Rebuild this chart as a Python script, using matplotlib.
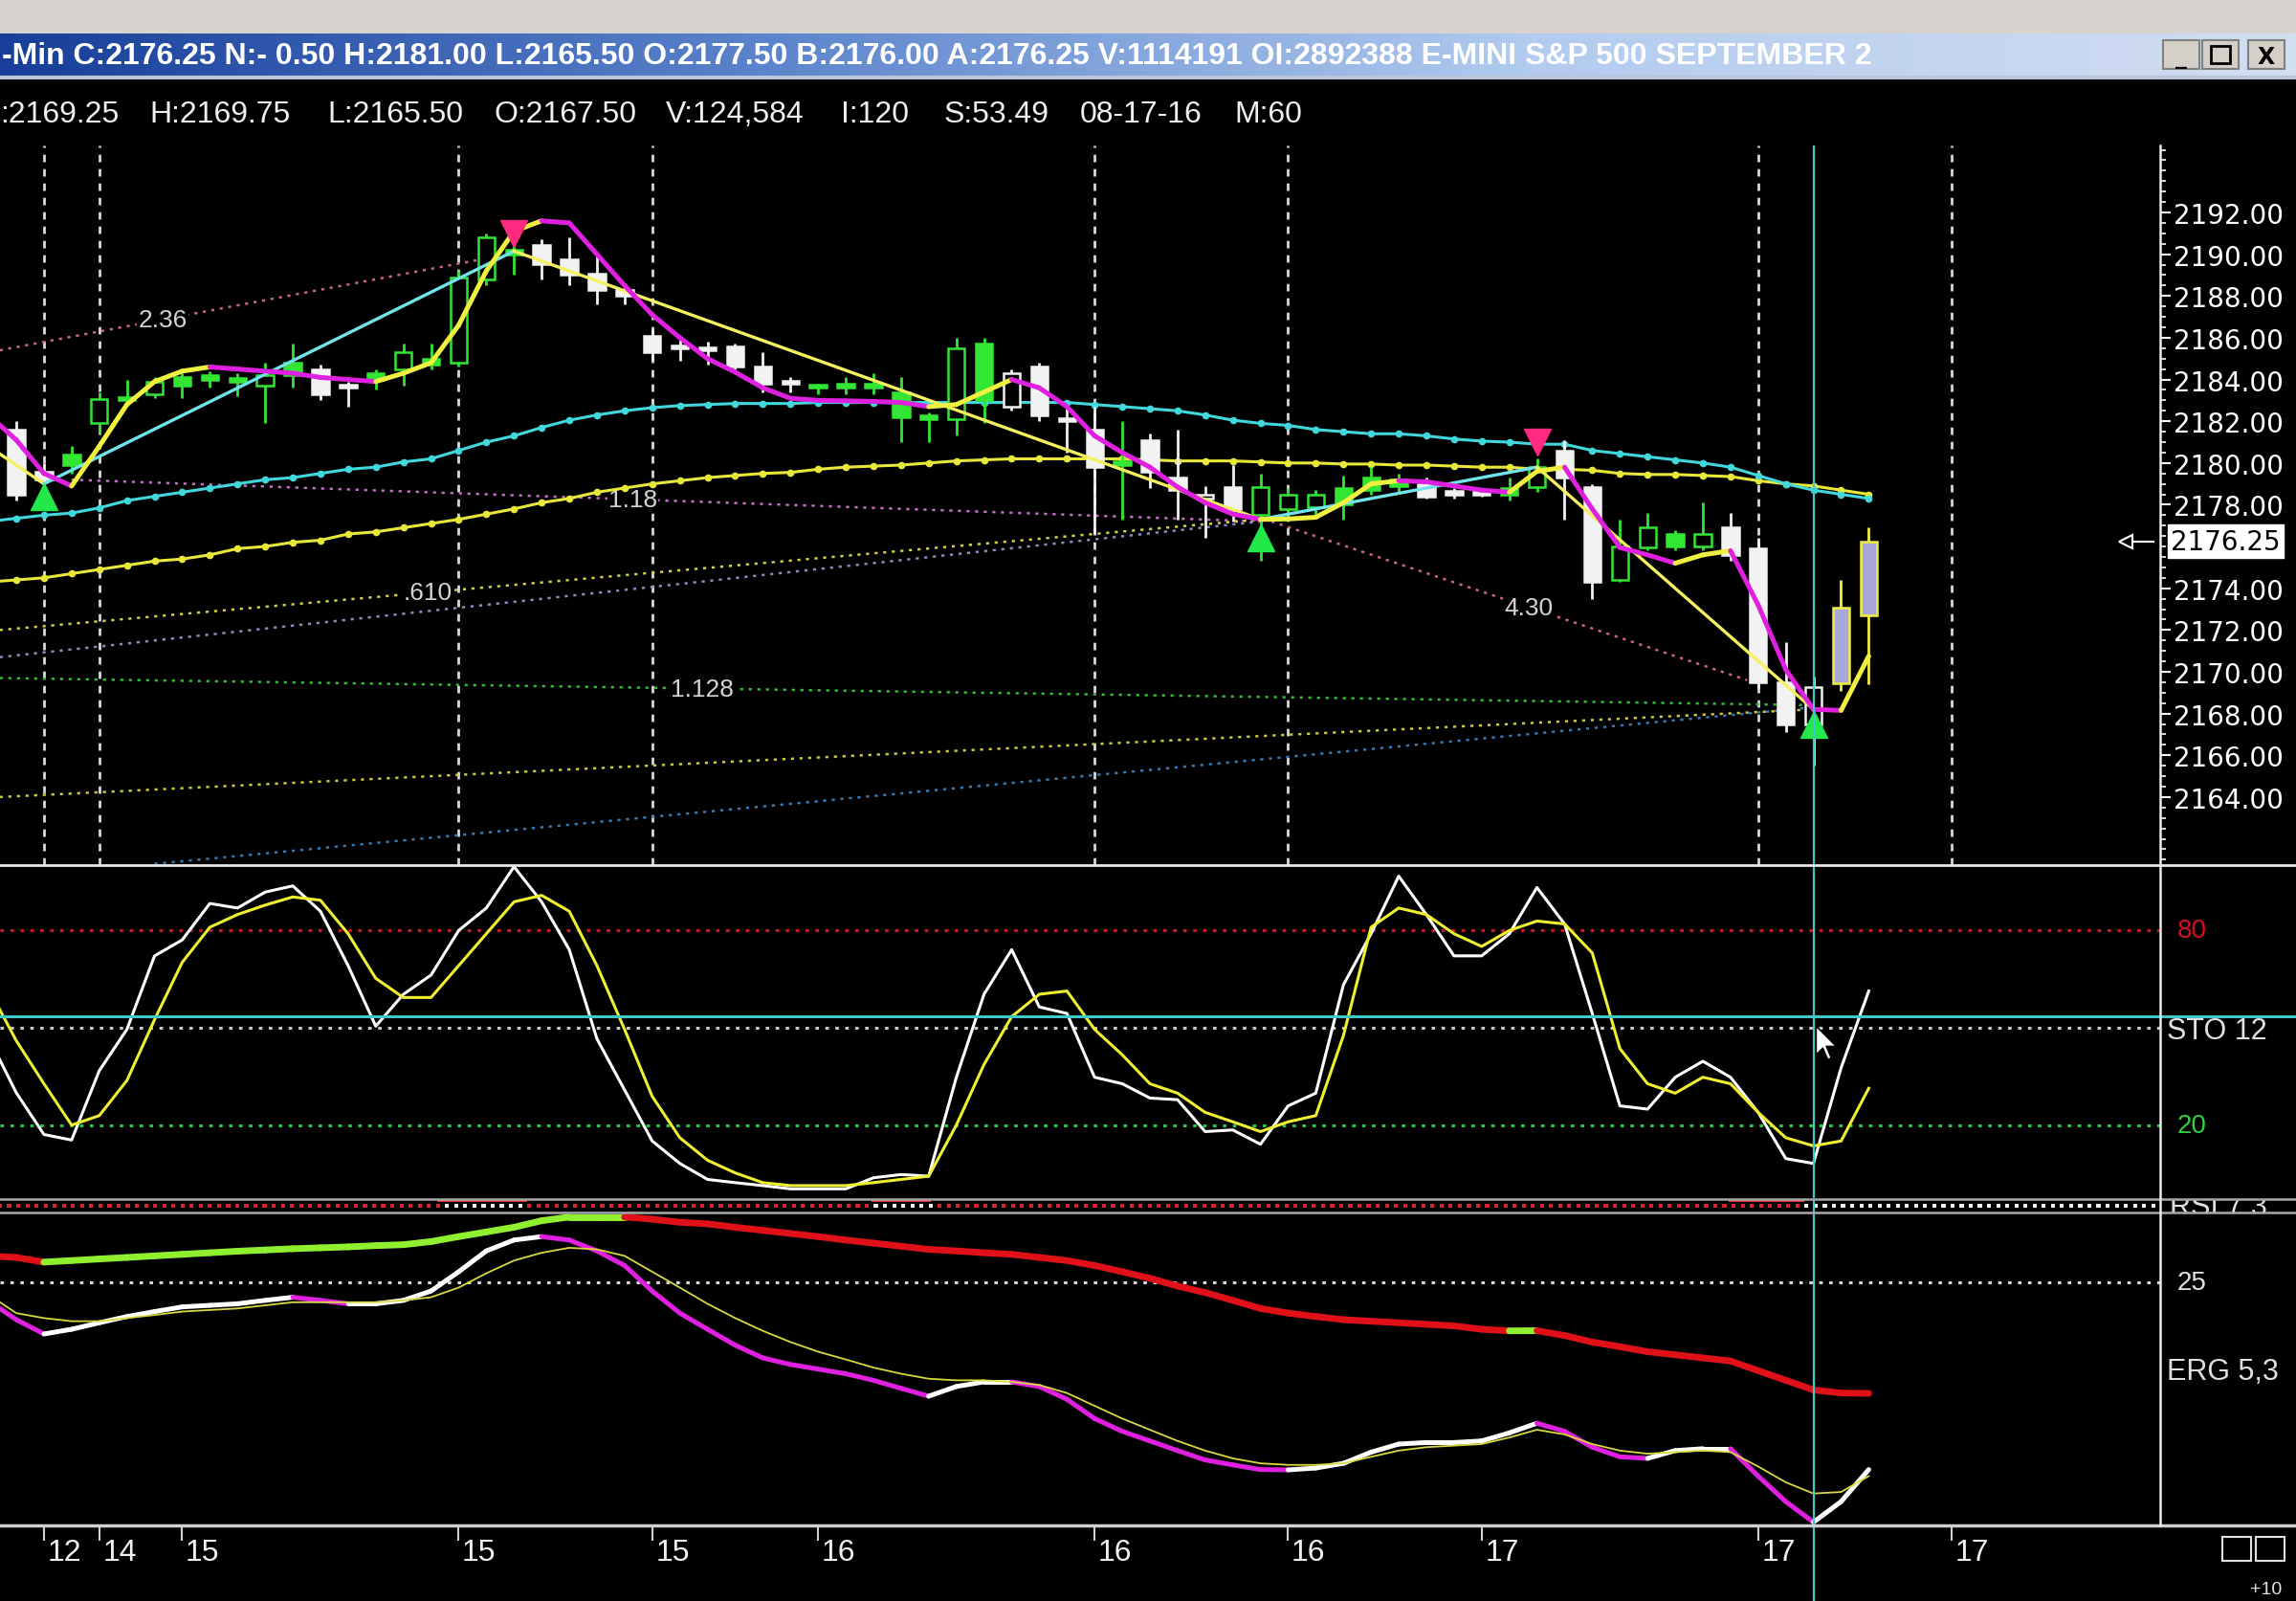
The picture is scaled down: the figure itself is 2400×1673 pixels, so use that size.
import numpy as np
import matplotlib
matplotlib.use("Agg")
import matplotlib.pyplot as plt
from matplotlib.colors import LinearSegmentedColormap
from matplotlib.collections import LineCollection
from matplotlib.lines import Line2D
from matplotlib.patches import Rectangle
from matplotlib.path import Path
from matplotlib.ticker import FormatStrFormatter, MultipleLocator

W, H = 2400, 1674
NARROW = ['Liberation Sans', 'DejaVu Sans']

# header texts
title = ("-Min C:2176.25 N:- 0.50 H:2181.00 L:2165.50 O:2177.50 B:2176.00 "
         "A:2176.25 V:1114191 OI:2892388 E-MINI S&P 500 SEPTEMBER 2")
info_items = [":2169.25", "H:2169.75", "L:2165.50", "O:2167.50", "V:124,584",
              "I:120", "S:53.49", "08-17-16", "M:60"]
info_px = [0, 156, 342, 516, 696, 879, 987, 1129, 1290]

# hourly bars, index -1 .. 66
bar_idx = np.arange(-1, 67)
opens = [2181.6, 2179.6, 2179.9, 2181.9, 2183.0, 2183.3, 2183.7, 2184.0, 2183.9, 2183.7,
         2184.2, 2184.5, 2183.7, 2184.0, 2184.5, 2184.7, 2184.8, 2188.8, 2190.0, 2190.46,
         2189.77, 2189.08, 2188.3, 2186.1, 2185.6, 2185.5, 2185.6, 2184.6, 2183.9, 2183.6,
         2183.6, 2183.6, 2182.2, 2182.1, 2182.1, 2183.0, 2184.3, 2184.6, 2182.1, 2181.6,
         2179.9, 2181.1, 2179.3, 2178.5, 2178.85, 2178.85, 2177.8, 2177.9, 2178.0, 2178.7,
         2178.9, 2179.0, 2178.6, 2178.6, 2178.5, 2178.85, 2180.6, 2178.85, 2174.4, 2175.95,
         2176.0, 2176.0, 2176.9, 2175.9, 2169.5, 2167.5, 2169.45, 2172.7]
highs = [2182.0, 2180.0, 2180.8, 2183.4, 2184.0, 2184.1, 2184.3, 2184.4, 2184.3, 2184.8,
         2185.7, 2184.7, 2183.9, 2184.5, 2185.7, 2185.7, 2189.2, 2191.0, 2190.6, 2190.7,
         2190.8, 2190.0, 2188.6, 2186.4, 2185.9, 2185.8, 2185.7, 2185.3, 2184.1, 2183.8,
         2184.1, 2184.3, 2184.1, 2182.4, 2186.0, 2186.0, 2184.5, 2184.8, 2182.7, 2182.7,
         2182.0, 2181.4, 2181.6, 2178.9, 2179.9, 2179.5, 2178.8, 2178.7, 2179.4, 2179.8,
         2179.5, 2179.3, 2178.8, 2178.8, 2179.3, 2180.2, 2181.1, 2179.0, 2177.3, 2177.6,
         2176.8, 2178.1, 2177.6, 2176.4, 2171.4, 2169.75, 2174.4, 2176.9]
lows = [2178.2, 2178.9, 2179.5, 2181.4, 2182.9, 2183.1, 2183.1, 2183.6, 2183.2, 2181.9,
        2183.6, 2183.0, 2182.7, 2183.5, 2183.7, 2184.5, 2184.6, 2188.5, 2189.0, 2188.8,
        2188.5, 2187.6, 2187.6, 2184.9, 2184.9, 2184.7, 2184.5, 2183.4, 2183.4, 2183.3,
        2183.3, 2183.3, 2181.0, 2181.0, 2181.3, 2181.9, 2182.5, 2182.0, 2180.5, 2176.6,
        2177.3, 2178.8, 2177.3, 2176.4, 2177.2, 2175.3, 2177.2, 2177.5, 2177.3, 2178.5,
        2178.6, 2178.3, 2178.3, 2178.4, 2178.2, 2178.6, 2177.3, 2173.5, 2174.3, 2175.8,
        2175.8, 2175.8, 2175.3, 2169.2, 2167.1, 2165.5, 2169.1, 2169.4]
closes = [2178.5, 2179.2, 2180.4, 2183.05, 2183.1, 2183.9, 2184.1, 2184.2, 2184.0, 2184.2,
          2184.8, 2183.3, 2183.6, 2184.3, 2185.3, 2185.0, 2188.9, 2190.8, 2190.2, 2189.54,
          2189.0, 2188.3, 2188.0, 2185.3, 2185.5, 2185.4, 2184.6, 2183.8, 2183.8, 2183.7,
          2183.8, 2183.8, 2183.4, 2182.3, 2185.5, 2185.7, 2182.7, 2182.3, 2182.0, 2179.8,
          2180.1, 2179.6, 2178.7, 2178.3, 2177.8, 2177.5, 2178.5, 2178.5, 2178.8, 2179.3,
          2179.2, 2178.4, 2178.5, 2178.5, 2178.8, 2179.8, 2179.3, 2174.3, 2176.0, 2176.9,
          2176.6, 2176.6, 2175.6, 2169.5, 2167.5, 2169.25, 2173.05, 2176.25]
# W white, H white hollow, G green hollow, F green filled, Y yellow/lavender
bar_style = ("WWFGFGFFFG" "FWWFGFGGFW" "WWWWWWWWWF" "FFFFGFHWWW"
             "FWWHWGGGFF" "FWWWFGWWGG" "FGWWWHYY")

# indicator lines, index -2 .. 66
line_idx = np.arange(-2, 67)
ma_fast = [2182.3, 2181.1, 2179.5, 2178.9, 2180.8, 2182.8, 2183.9, 2184.4, 2184.6, 2184.5,
           2184.4, 2184.3, 2184.1, 2184.0, 2183.9, 2184.3, 2184.8, 2186.6, 2189.2, 2191.1,
           2191.6, 2191.5, 2190.0, 2188.5, 2187.1, 2186.0, 2185.0, 2184.35, 2183.6, 2183.1,
           2183.0, 2182.98, 2182.95, 2182.9, 2182.7, 2182.8, 2183.4, 2184.0, 2183.6, 2182.7,
           2181.3, 2180.5, 2179.8, 2178.85, 2178.1, 2177.55, 2177.3, 2177.32, 2177.4, 2178.1,
           2179.0, 2179.15, 2179.1, 2178.9, 2178.7, 2178.6, 2179.6, 2179.8, 2177.8, 2175.95,
           2175.6, 2175.2, 2175.6, 2175.8, 2173.2, 2170.1, 2168.2, 2168.15, 2170.75]
ma_mid = [2177.2, 2177.35, 2177.5, 2177.6, 2177.85, 2178.2, 2178.4, 2178.6, 2178.8, 2179.0,
          2179.2, 2179.3, 2179.5, 2179.7, 2179.8, 2180.05, 2180.2, 2180.6, 2181.0, 2181.3,
          2181.7, 2182.05, 2182.3, 2182.5, 2182.65, 2182.75, 2182.8, 2182.85, 2182.85, 2182.85,
          2182.9, 2182.9, 2182.9, 2182.9, 2182.9, 2182.9, 2182.9, 2182.9, 2182.9, 2182.9,
          2182.8, 2182.7, 2182.6, 2182.5, 2182.3, 2182.05, 2181.9, 2181.8, 2181.6, 2181.5,
          2181.4, 2181.4, 2181.3, 2181.15, 2181.05, 2181.0, 2180.9, 2180.9, 2180.6, 2180.45,
          2180.3, 2180.15, 2180.0, 2179.8, 2179.4, 2179.0, 2178.7, 2178.5, 2178.3]
ma_slow = [2174.3, 2174.4, 2174.5, 2174.7, 2174.9, 2175.1, 2175.3, 2175.4, 2175.6, 2175.9,
           2176.0, 2176.2, 2176.3, 2176.6, 2176.7, 2176.9, 2177.1, 2177.3, 2177.55, 2177.8,
           2178.1, 2178.3, 2178.6, 2178.8, 2179.0, 2179.15, 2179.3, 2179.4, 2179.5, 2179.55,
           2179.7, 2179.8, 2179.85, 2179.9, 2180.0, 2180.1, 2180.15, 2180.2, 2180.2, 2180.2,
           2180.2, 2180.2, 2180.15, 2180.1, 2180.1, 2180.1, 2180.05, 2180.0, 2180.0, 2179.95,
           2179.95, 2179.9, 2179.9, 2179.85, 2179.8, 2179.8, 2179.7, 2179.7, 2179.65, 2179.5,
           2179.45, 2179.45, 2179.4, 2179.35, 2179.15, 2179.0, 2178.9, 2178.7, 2178.5]
stoch_k = [47, 30, 17.2, 15.5, 36.8, 49.5, 72.1, 77.0, 88.2, 86.8,
           91.7, 93.6, 85.8, 69.1, 50.5, 60.3, 66.2, 79.9, 86.8, 99.5,
           88.7, 74.0, 46.6, 30.9, 15.2, 8.3, 3.4, 2.4, 1.5, 0.5,
           0.5, 0.5, 3.9, 4.9, 4.4, 34.8, 60.3, 74.0, 56.4, 54.4,
           34.8, 32.8, 28.4, 27.9, 18.1, 18.6, 14.2, 26.0, 29.9, 63.2,
           78.9, 96.6, 84.8, 72.1, 72.1, 78.9, 93.1, 81.9, 54.4, 26.0,
           25.0, 34.8, 39.7, 34.8, 24.0, 9.8, 8.3, 37.7, 61.3]
stoch_d = [62, 46, 32.8, 20.1, 23.0, 33.8, 52.5, 70.1, 80.9, 84.8,
           87.7, 90.2, 89.2, 78.9, 65.2, 59.3, 59.3, 69.1, 78.9, 88.7,
           90.7, 85.8, 69.1, 49.5, 28.9, 16.2, 9.3, 5.4, 2.4, 1.5,
           1.5, 1.5, 2.4, 3.4, 4.4, 20.1, 38.7, 53.4, 60.3, 61.3,
           49.5, 41.7, 32.8, 29.9, 24.0, 21.1, 18.1, 21.1, 23.0, 47.6,
           80.9, 86.8, 84.8, 78.9, 75.0, 79.9, 82.8, 81.9, 73.0, 43.6,
           32.8, 29.9, 34.8, 32.8, 24.0, 16.2, 13.7, 15.2, 31.4]
erg_trend = [33.5, 33.0, 31.5, 32.0, 32.5, 33.0, 33.5, 34.0, 34.5, 35.0,
             35.4, 35.8, 36.1, 36.4, 36.8, 37.1, 38.1, 39.7, 41.2, 42.7,
             44.8, 46.0, 46.0, 46.0, 45.3, 44.3, 43.8, 42.7, 41.7, 40.7,
             39.7, 38.6, 37.6, 36.6, 35.6, 35.1, 34.5, 34.0, 33.0, 32.0,
             30.4, 28.4, 26.3, 23.8, 21.7, 19.2, 16.6, 15.1, 14.0, 13.0,
             12.5, 12.0, 11.5, 11.0, 9.9, 9.4, 9.45, 7.9, 5.8, 4.3,
             2.7, 1.7, 0.7, -0.3, -3.4, -6.5, -9.6, -10.6, -10.7]
erg_main = [19.0, 13.0, 8.4, 9.9, 12.0, 14.0, 15.6, 17.1, 17.6, 18.1,
            19.2, 20.2, 19.2, 18.1, 18.1, 19.2, 22.2, 28.4, 35.1, 38.6,
            39.7, 38.6, 35.1, 30.4, 22.2, 15.1, 9.9, 4.8, 0.7, -1.4,
            -2.9, -4.4, -6.5, -9.1, -11.6, -8.5, -7.0, -7.0, -8.5, -12.6,
            -18.8, -22.9, -26.0, -29.1, -32.1, -33.7, -35.2, -35.3, -34.7, -33.2,
            -29.6, -27.0, -26.5, -26.5, -26.0, -23.4, -20.3, -22.9, -28.0, -31.1,
            -31.6, -29.1, -28.5, -28.5, -37.3, -45.5, -52.1, -45.5, -35.2]
erg_signal = [21.0, 15.1, 13.5, 12.5, 12.5, 13.5, 14.5, 15.6, 16.1, 16.6,
              17.6, 18.6, 18.6, 18.6, 18.6, 19.2, 20.2, 23.3, 27.9, 32.0,
              34.5, 36.1, 35.6, 33.5, 28.4, 23.3, 18.1, 13.5, 9.4, 5.8,
              2.7, 0.2, -2.4, -4.4, -6.0, -6.5, -6.5, -7.0, -8.0, -10.6,
              -14.7, -18.8, -22.4, -26.0, -29.1, -31.6, -33.2, -33.7, -33.7, -33.2,
              -31.1, -29.1, -28.0, -27.5, -27.0, -24.9, -22.4, -23.9, -27.0, -29.1,
              -30.1, -29.6, -29.1, -29.6, -34.2, -39.3, -42.9, -42.4, -37.3]

# swing zigzag and pivot markers
zz_idx = [-4, 0, 17, 44, 54, 64]
zz_price = [2182.6, 2179.0, 2190.15, 2177.3, 2179.8, 2168.2]
pivot_low_idx = [0, 44, 64]
pivot_low_price = [2178.4, 2176.4, 2167.5]
pivot_high_idx = [17, 54]
pivot_high_price = [2191.0, 2181.0]

# dotted projection lines
fib_x0 = [-1.6, 1.0, -1.6, -1.6, -1.6, -1.6, 4.0, 44.4]
fib_p0 = [2185.4, 2179.2, 2172.0, 2170.7, 2169.7, 2164.0, 2160.8, 2177.2]
fib_x1 = [16.0, 44.0, 44.0, 44.0, 64.0, 64.0, 64.0, 61.6]
fib_p1 = [2189.8, 2177.2, 2177.3, 2177.2, 2168.4, 2168.2, 2168.3, 2169.6]
fib_col = ['#c86878', '#c070c8', '#d0d048', '#8c88c0', '#38b838', '#c8c840', '#3878b0', '#c86878']
fib_lbl = ['2.36', '1.18', '.610', '', '1.128', '', '', '4.30']
fib_lbl_x = [4.3, 21.3, 13.9, 0, 23.8, 0, 0, 53.7]

# time axis
session_idx = [0, 2, 15, 22, 38, 45, 62, 69]
date_idx = [0, 2, 5, 15, 22, 28, 38, 45, 52, 62, 69]
date_lbl = ['12', '14', '15', '15', '15', '16', '16', '16', '17', '17', '17']

cursor_idx = 64
cursor_sto = 53.49
last_price = 2176.25
rsi_white_spans = [(14.3, 17.4), (30.0, 32.3), (63.6, 82.0)]
rsi_flag_spans = [(14.3, 17.4), (30.0, 32.0), (61.0, 63.6)]

# ------------------------------------------------------------------
fig = plt.figure(figsize=(W / 100, H / 100), dpi=100, facecolor='black')


def frame(top, bottom, left=0, right=2258):
    a = fig.add_axes([left / W, 1 - bottom / H, (right - left) / W, (bottom - top) / H])
    a.set_facecolor('black')
    for s in a.spines.values():
        s.set_visible(False)
    a.set_xticks([])
    a.set_yticks([])
    return a


def fig_line(x0, y0, x1, y1, color, lw):
    fig.add_artist(Line2D([x0 / W, x1 / W], [1 - y0 / H, 1 - y1 / H],
                          transform=fig.transFigure, color=color, lw=lw))


def slope_lines(a, x, y, up, down, lw, z):
    y = np.asarray(y, float)
    pts = np.column_stack([x, y])
    segs = np.stack([pts[:-1], pts[1:]], axis=1)
    cols = [up if b >= c else down for c, b in zip(y[:-1], y[1:])]
    a.add_collection(LineCollection(segs, colors=cols, linewidths=lw, zorder=z,
                                    capstyle='round', joinstyle='round'))


x_lo, x_hi = -1.59, 76.54
x_wide = x_lo + (x_hi - x_lo) * W / 2258

# window chrome
top = frame(0, 36, 0, W)
top.set_facecolor('#d6d3ce')
tb = frame(36, 80, 0, W)
grad = LinearSegmentedColormap.from_list('tb', ['#173e98', '#5c84cc', '#b2cbee', '#d2def2'])
tb.imshow(np.linspace(0, 1, 512).reshape(1, -1), cmap=grad, aspect='auto', extent=[0, 1, 0, 1])
tb.set_xlim(0, 1)
tb.set_ylim(0, 1)
tb.text(0.001, 0.47, title, transform=tb.transAxes, color='white', fontsize=23,
        fontweight='bold', family=NARROW, va='center', ha='left')
for bx, glyph in zip([2261, 2302, 2350], ['_', '', 'X']):
    fig.add_artist(Rectangle((bx / W, 1 - 73 / H), 38 / W, 30 / H, transform=fig.transFigure,
                             facecolor='#d4d0c8', edgecolor='#808080', lw=1.5))
    if glyph:
        fig.text((bx + 19) / W, 1 - 60 / H, glyph, color='black', fontsize=17,
                 fontweight='bold', ha='center', va='center')
fig.add_artist(Rectangle((2311 / W, 1 - 67 / H), 20 / W, 18 / H, transform=fig.transFigure,
                         facecolor='none', edgecolor='black', lw=2))
fig_line(0, 82, W, 82, '#b8c4d8', 3)

for txt, px in zip(info_items, info_px):
    fig.text(px / W, 1 - 120 / H, txt, color='#f0f0f0', fontsize=23, family=NARROW,
             ha='left', va='center')

# ---------------- price panel
ax = frame(153, 905)
ax.set_xlim(x_lo, x_hi)
ax.set_ylim(2160.74, 2195.21)
ax.vlines(session_idx, 2160.74, 2195.21, colors='#d8d8d8', lw=2, linestyles=(0, (2.8, 2.6)), zorder=1)

for k in range(len(fib_x0)):
    ax.plot([fib_x0[k], fib_x1[k]], [fib_p0[k], fib_p1[k]], color=fib_col[k], lw=1.8,
            linestyle=(0, (1.3, 2.3)), zorder=2)
    if fib_lbl[k]:
        py = np.interp(fib_lbl_x[k], [fib_x0[k], fib_x1[k]], [fib_p0[k], fib_p1[k]])
        ax.text(fib_lbl_x[k], py, fib_lbl[k], color='#d4d4d4', fontsize=19, family=NARROW,
                ha='center', va='center', zorder=2.5,
                bbox=dict(boxstyle='square,pad=0.05', fc='black', ec='none'))

ax.plot(line_idx, ma_slow, color='#e8e83a', lw=2.2, marker='o', ms=4.5, zorder=3)
ax.plot(line_idx, ma_mid, color='#40d8dc', lw=2.2, marker='o', ms=4.5, zorder=3)

candle_col = {'W': ('#f2f2f2', '#f2f2f2'), 'H': ('black', '#f2f2f2'),
              'G': ('black', '#33e633'), 'F': ('#33e633', '#33e633'),
              'Y': ('#a9a6dc', '#f0f040')}
for i, o, h, l, c, s in zip(bar_idx, opens, highs, lows, closes, bar_style):
    face, edge = candle_col[s]
    ax.vlines(i, l, h, colors=edge, lw=2, zorder=4)
    lo, hi = min(o, c), max(o, c)
    ax.add_patch(Rectangle((i - 0.3, lo), 0.6, max(hi - lo, 0.15), facecolor=face,
                           edgecolor=edge, lw=1.8, zorder=5))

for k in range(len(zz_idx) - 1):
    col = '#70e4ec' if zz_price[k + 1] > zz_price[k] else '#f4f060'
    ax.plot(zz_idx[k:k + 2], zz_price[k:k + 2], color=col, lw=2.4, zorder=6)
slope_lines(ax, line_idx, ma_fast, '#f0f040', '#e020e0', 3.6, 7)

ax.plot(pivot_low_idx, pivot_low_price, '^', color='#22e84a', ms=20, zorder=8)
ax.plot(pivot_high_idx, pivot_high_price, 'v', color='#ff2a80', ms=20, zorder=8)

ax.axvline(cursor_idx, color='#40c8c8', lw=1.6, zorder=9)

price_ticks = [p for p in np.arange(2164, 2193, 2) if p != 2176]
ax.yaxis.tick_right()
ax.set_yticks(price_ticks)
ax.yaxis.set_major_formatter(FormatStrFormatter('%.2f'))
ax.yaxis.set_minor_locator(MultipleLocator(0.5))
ax.tick_params(axis='y', which='major', colors='white', labelsize=20, length=8,
               width=1.5, direction='out', pad=2)
ax.tick_params(axis='y', which='minor', colors='white', length=4, width=1.2, direction='out')
ax.text(1.005, last_price, f'{last_price:.2f}', transform=ax.get_yaxis_transform(),
        color='black', fontsize=20, ha='left', va='center',
        bbox=dict(boxstyle='square,pad=0.12', fc='white', ec='white'))
ax.plot([75.3, 76.3], [last_price, last_price], color='white', lw=1.5, zorder=9)
ax.plot([75.3], [last_price], marker='<', ms=10, mfc='black', mec='white', mew=1.5, zorder=9)

# ---------------- stochastic panel
sto = frame(906, 1253)
sto.set_xlim(x_lo, x_hi)
sto.set_ylim(-2.35, 99.7)
sto.axhline(80, color='#c81828', lw=2.2, linestyle=(0, (1.2, 2.2)))
sto.axhline(20, color='#28c848', lw=2.2, linestyle=(0, (1.2, 2.2)))
sto.axhline(50, color='#c8c8c8', lw=2.2, linestyle=(0, (1.2, 2.2)))
sto.plot(line_idx, stoch_k, color='white', lw=2.2, zorder=3)
sto.plot(line_idx, stoch_d, color='#f0f030', lw=2.2, zorder=4)
sto.plot([0, W / 2258], [cursor_sto, cursor_sto], transform=sto.get_yaxis_transform(),
         color='#40c8c8', lw=2.2, clip_on=False, zorder=5)
sto.axvline(cursor_idx, color='#40c8c8', lw=1.6, zorder=5)
arrow = Path([(0, 0), (0, -17), (4, -13), (7, -20), (9, -19), (6, -12), (12, -12), (0, 0)])
sto.plot([cursor_idx + 0.1], [cursor_sto - 3], marker=arrow, ms=50, mfc='white', mec='black',
         mew=1, zorder=6)
ytr = sto.get_yaxis_transform()
sto.text(1.008, 80, '80', transform=ytr, color='#d01020', fontsize=20, family=NARROW, va='center')
sto.text(1.003, 49, 'STO 12', transform=ytr, color='#e0e0e0', fontsize=22, family=NARROW, va='center')
sto.text(1.008, 20, '20', transform=ytr, color='#30d040', fontsize=20, family=NARROW, va='center')

# ---------------- RSI strip
rsi = frame(1254, 1268, 0, W)
rsi.set_xlim(x_lo, x_wide)
rsi.set_ylim(0, 1)
dots = np.arange(x_lo, x_hi, 0.33)
dot_col = ['#f0f0f0' if any(a <= d <= b for a, b in rsi_white_spans) else '#d42434' for d in dots]
rsi.scatter(dots, np.full(len(dots), 0.5), s=9, marker='s', c=dot_col, lw=0)
for a, b in rsi_flag_spans:
    rsi.plot([a, b], [0.9, 0.9], color='#e03040', lw=3)
rsi.axvline(cursor_idx, color='#40c8c8', lw=1.6)
rsi.text(x_hi + 0.35, 0.4, 'RSI 7 3', color='#e0e0e0', fontsize=22, family=NARROW,
         va='center', clip_on=True)

# ---------------- ERG panel
erg = frame(1269, 1595)
erg.set_xlim(x_lo, x_hi)
erg.set_ylim(-53.15, 47.15)
erg.axhline(25, color='#d8d8d8', lw=2.2, linestyle=(0, (1.2, 2.2)))
slope_lines(erg, line_idx, erg_trend, '#90f030', '#e01018', 5, 3)
slope_lines(erg, line_idx, erg_main, 'white', '#e020e0', 3.6, 4)
erg.plot(line_idx, erg_signal, color='#d8d840', lw=1.3, zorder=5)
erg.axvline(cursor_idx, color='#40c8c8', lw=1.6, zorder=6)
erg.text(1.008, 25, '25', transform=erg.get_yaxis_transform(), color='#e0e0e0',
         fontsize=20, family=NARROW, va='center')
erg.text(1.003, 0.495, 'ERG 5,3', transform=erg.transAxes, color='#e0e0e0',
         fontsize=22, family=NARROW, va='center')

# ---------------- time axis strip
tx = frame(1595, H, 0, W)
tx.set_xlim(x_lo, x_wide)
tx.set_ylim(0, 1)
tx.vlines(date_idx, 0.8, 1, colors='#d0d0d0', lw=1.5)
for d, lbl in zip(date_idx, date_lbl):
    tx.text(d + 0.12, 0.64, lbl, color='#f0f0f0', fontsize=23, family=NARROW,
            ha='left', va='center')
tx.axvline(cursor_idx, color='#40c8c8', lw=1.6)
for sx in [2323, 2358]:
    fig.add_artist(Rectangle((sx / W, 1 - 1632 / H), 30 / W, 25 / H, transform=fig.transFigure,
                             facecolor='none', edgecolor='#e0e0e0', lw=1.5))
fig.text(2352 / W, 1 - 1662 / H, '+10', color='#e0e0e0', fontsize=14, family=NARROW,
         va='center')

# panel borders
fig_line(0, 905, W, 905, '#e8e8e8', 2)
fig_line(0, 1254, W, 1254, '#a8a8a8', 1.8)
fig_line(0, 1268, W, 1268, '#a8a8a8', 1.8)
fig_line(0, 1595, W, 1595, '#d0d0d0', 2.5)
fig_line(2258, 153, 2258, 1595, '#e8e8e8', 1.8)

fig.savefig('out.png', dpi=100, facecolor='black')
